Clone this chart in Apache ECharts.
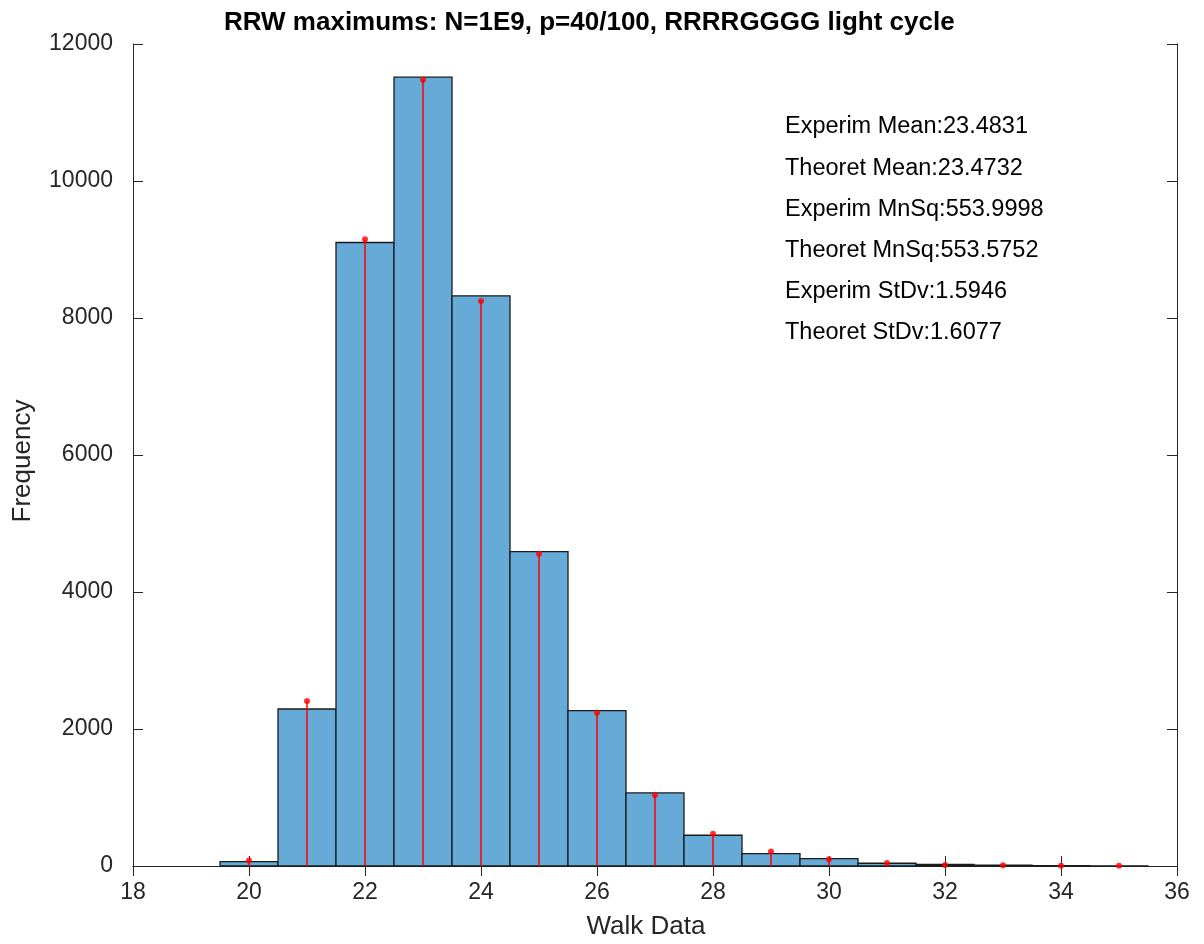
<!DOCTYPE html>
<html>
<head>
<meta charset="utf-8">
<script src="https://cdn.jsdelivr.net/npm/echarts@6/dist/echarts.min.js"></script>
<style>
html,body{margin:0;padding:0;background:#fff;}
#chart{width:1204px;height:944px;}
</style>
</head>
<body>
<div id="chart"></div>
<script>
var bins = [20, 21, 22, 23, 24, 25, 26, 27, 28, 29, 30, 31, 32, 33, 34, 35];
var experimental = [65, 2292, 9102, 11516, 8323, 4590, 2267, 1067, 449, 182, 109, 40, 22, 12, 6, 3];
var theoretical = [80, 2409, 9150, 11479, 8250, 4557, 2238, 1038, 469, 211, 99, 45, 15, 10, 5, 2];
var xTicks = [18, 20, 22, 24, 26, 28, 30, 32, 34, 36];
var yTicks = [0, 2000, 4000, 6000, 8000, 10000, 12000];
var statLines = [
  'Experim Mean:23.4831',
  'Theoret Mean:23.4732',
  'Experim MnSq:553.9998',
  'Theoret MnSq:553.5752',
  'Experim StDv:1.5946',
  'Theoret StDv:1.6077'
];
var titleText = 'RRW maximums: N=1E9, p=40/100, RRRRGGGG light cycle';
var xName = 'Walk Data';
var yName = 'Frequency';

var FONT = '"Liberation Sans", Arial, Helvetica, sans-serif';
var AX = '#262626';

var histData = bins.map(function (b, i) { return [b, experimental[i]]; });
var theoData = bins.map(function (b, i) { return [b, theoretical[i]]; });

var chart = echarts.init(document.getElementById('chart'), null, {renderer: 'canvas'});

function plainNum(v) { return String(v); }

function axisCommon() {
  return {
    axisLine: {show: true, lineStyle: {color: AX, width: 1}},
    axisTick: {show: true, inside: true, length: 10, lineStyle: {color: AX, width: 1}},
    splitLine: {show: false}
  };
}

var option = {
  animation: false,
  backgroundColor: '#ffffff',
  title: {
    text: titleText,
    left: 219,
    top: 5,
    textStyle: {fontFamily: FONT, fontWeight: 'bold', fontSize: 26, color: '#000'}
  },
  grid: {left: 133, right: 27, top: 44, bottom: 78, containLabel: false},
  xAxis: [
    Object.assign({
      type: 'value', min: xTicks[0], max: xTicks[xTicks.length - 1], interval: 2,
      position: 'bottom',
      axisLabel: {show: true, color: AX, fontFamily: FONT, fontSize: 23, margin: 15, formatter: plainNum}
    }, axisCommon()),
    Object.assign({
      type: 'value', min: xTicks[0], max: xTicks[xTicks.length - 1], interval: 2,
      position: 'top',
      axisLabel: {show: false}
    }, axisCommon())
  ],
  yAxis: [
    Object.assign({
      type: 'value', min: yTicks[0], max: yTicks[yTicks.length - 1], interval: 2000,
      position: 'left',
      axisLabel: {show: true, color: AX, fontFamily: FONT, fontSize: 23, margin: 20, formatter: plainNum}
    }, axisCommon()),
    Object.assign({
      type: 'value', min: yTicks[0], max: yTicks[yTicks.length - 1], interval: 2000,
      position: 'right',
      axisLabel: {show: false}
    }, axisCommon())
  ],
  series: [
    {
      name: 'Experimental',
      type: 'custom',
      xAxisIndex: 0, yAxisIndex: 0,
      z: 3,
      data: histData,
      renderItem: function (params, api) {
        var x = api.value(0), y = api.value(1);
        var p1 = api.coord([x - 0.5, y]);
        var p0 = api.coord([x + 0.5, 0]);
        return {
          type: 'rect',
          shape: {x: p1[0], y: p1[1], width: p0[0] - p1[0], height: p0[1] - p1[1]},
          style: {fill: '#66aad7', stroke: '#1b1b1b', lineWidth: 1.3}
        };
      }
    },
    {
      name: 'TheoreticalStem',
      type: 'custom',
      xAxisIndex: 0, yAxisIndex: 0,
      z: 4,
      data: theoData,
      renderItem: function (params, api) {
        var x = api.value(0), y = api.value(1);
        var a = api.coord([x, 0]);
        var b = api.coord([x, y]);
        return {
          type: 'line',
          shape: {x1: a[0], y1: a[1], x2: b[0], y2: b[1]},
          style: {stroke: '#ff0000', lineWidth: 1.5}
        };
      }
    },
    {
      name: 'Theoretical',
      type: 'scatter',
      xAxisIndex: 0, yAxisIndex: 0,
      z: 5,
      symbol: 'circle',
      symbolSize: 6,
      itemStyle: {color: '#ff0000'},
      data: theoData
    }
  ],
  graphic: statLines.map(function (t, i) {
    return {
      type: 'text',
      left: 785,
      top: 115 + i * 41.2,
      z: 10,
      style: {text: t, font: '23.5px ' + FONT, fill: '#000'}
    };
  }).concat([
    {
      type: 'text',
      x: 646, y: 927,
      z: 10,
      style: {text: xName, font: '26px ' + FONT, fill: AX, textAlign: 'center', textVerticalAlign: 'middle'}
    },
    {
      type: 'text',
      x: 23, y: 461,
      rotation: Math.PI / 2,
      z: 10,
      style: {text: yName, font: '26px ' + FONT, fill: AX, textAlign: 'center', textVerticalAlign: 'middle'}
    }
  ])
};

chart.setOption(option);
</script>
</body>
</html>
